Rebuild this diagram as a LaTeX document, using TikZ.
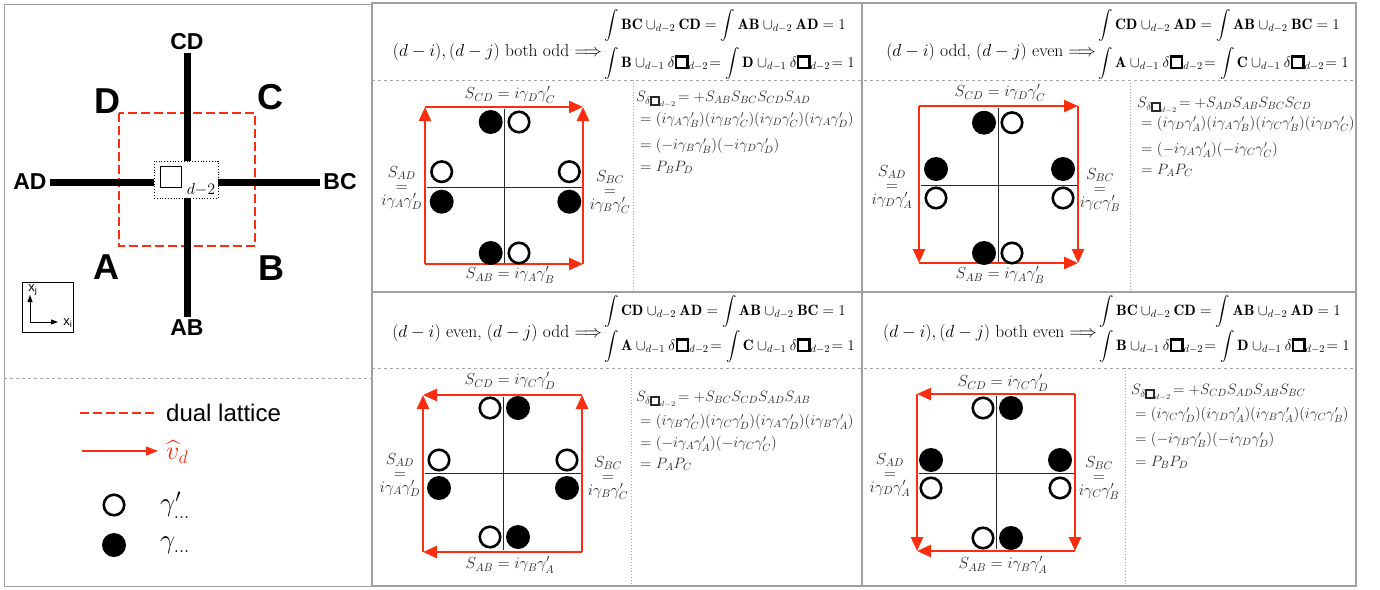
\RequirePackage{fix-cm}
\documentclass[tikz,border=0pt]{standalone}
\usepackage{amsmath}
\usepackage{fontspec}
\newfontfamily\hv{Liberation Sans}
\usetikzlibrary{arrows.meta}
\definecolor{myred}{RGB}{250,45,15}
\definecolor{framegray}{RGB}{160,160,160}
\definecolor{txtgray}{RGB}{40,40,40}
\newcommand{\bsq}{\text{\setlength{\fboxsep}{0pt}\setlength{\fboxrule}{0.15em}\fbox{\rule{0pt}{0.62em}\hspace{0.62em}}}}
\tikzset{
  thinframe/.style={draw=framegray, line width=1pt},
  cellframe/.style={draw=framegray, line width=2.6pt},
  sepdash/.style={draw=gray!70, dashed, line width=0.7pt},
  sepdot/.style={draw=gray!70, dotted, line width=0.9pt},
  latt/.style={draw=black, line width=7pt},
  duallat/.style={draw=myred, line width=2.5pt, dash pattern=on 9pt off 4pt},
  plaqbox/.style={draw=black, dotted, line width=0.8pt, fill=white, minimum width=64pt, minimum height=37pt, inner sep=0pt},
  bigsans/.style={font=\hv\bfseries\fontsize{36}{36}\selectfont, inner sep=2pt},
  midsans/.style={font=\hv\bfseries\fontsize{23}{23}\selectfont, inner sep=3pt},
  opn/.style={circle, draw=black, line width=2.6pt, fill=white, minimum size=20.5pt, inner sep=0pt},
  fil/.style={circle, fill=black, minimum size=24pt, inner sep=0pt},
  rarr/.style={draw=myred, line width=2.6pt, -{Triangle[length=14pt,width=12pt]}},
  legarr/.style={draw=myred, line width=1.3pt, -{Triangle[length=12pt,width=9pt]}},
  xhair/.style={draw=black!85, line width=1pt},
  lbl/.style={font=\fontsize{16}{14}\selectfont, text=txtgray, align=center, inner sep=1pt},
  rtx/.style={font=\fontsize{15}{17}\selectfont, text=txtgray, anchor=base west, inner sep=0pt},
  hdrL/.style={font=\fontsize{17.5}{20}\selectfont, anchor=east, inner sep=1pt},
  hdrE/.style={font=\fontsize{15}{18}\selectfont, anchor=base west, inner sep=1pt},
  axarr/.style={draw=black, line width=1pt, -{Triangle[length=7pt,width=5pt]}}
}
\begin{document}
\begin{tikzpicture}[x=1pt,y=-1pt]
\useasboundingbox (0,0) rectangle (1380,589);
% ---------- frames ----------
\draw[thinframe] (4,4) rectangle (372,586);
\draw[sepdash] (4,378) -- (372,378);
\draw[sepdash] (372,80) -- (1356,80);
\draw[sepdash] (372,368) -- (1356,368);
\draw[sepdot] (633,80) -- (633,292);
\draw[sepdot] (1130,80) -- (1130,292);
\draw[sepdot] (631,368) -- (631,586);
\draw[sepdot] (1125,368) -- (1125,586);
\draw[cellframe] (372,3) rectangle (1356,586);
\draw[cellframe] (862,3) -- (862,586);
\draw[cellframe] (372,292) -- (1356,292);
% ---------- left panel ----------
\draw[duallat] (119,113) rectangle (255,246);
\node[midsans] (lCD) at (187,42) {CD};
\node[midsans] (lAB) at (187,328) {AB};
\node[midsans] (lAD) at (30,182) {AD};
\node[midsans] (lBC) at (340,182) {BC};
\draw[latt] (lCD) -- (lAB);
\draw[latt] (lAD) -- (lBC);
\node[plaqbox] (plaq) at (186,179.5) {};
\node[draw=black, line width=1.2pt, minimum size=21pt, inner sep=0pt] (plaqsq) at (171,177) {};
\node[font=\fontsize{16}{16}\selectfont, inner sep=0pt] (plaqsub) at (201,190) {$d{-}2$};
\node[bigsans] (lD) at (107,101) {D};
\node[bigsans] (lC) at (270,97) {C};
\node[bigsans] (lA) at (106,267) {A};
\node[bigsans] (lB) at (271,268) {B};
\node[draw=black, line width=1pt, minimum width=51pt, minimum height=50pt, inner sep=0pt] (axbox) at (47.5,307) {};
\coordinate (ax0) at (30,322);
\coordinate (axj) at (30,295);
\coordinate (axi) at (58,322);
\draw[axarr] (ax0) -- (axj);
\draw[axarr] (ax0) -- (axi);
\node[font=\hv\fontsize{13}{13}\selectfont, inner sep=0pt] (axjl) at (33,290) {x\textsubscript{j}};
\node[font=\hv\fontsize{13}{13}\selectfont, inner sep=0pt] (axil) at (68,323) {x\textsubscript{i}};
% legend
\coordinate (dl1) at (80,413);
\coordinate (dl2) at (157,413);
\draw[duallat] (dl1) -- (dl2);
\node[anchor=west, font=\hv\fontsize{24}{24}\selectfont, inner sep=0pt] (dltxt) at (166,413) {dual lattice};
\coordinate (va1) at (82,451);
\coordinate (va2) at (158,451);
\draw[legarr] (va1) -- (va2);
\node[anchor=west, font=\fontsize{26}{26}\selectfont, text=myred, inner sep=0pt] (vtxt) at (166,452) {$\widehat{v}_d$};
\node[opn] (lgo) at (114,505) {};
\node[fil] (lgf) at (114,545) {};
\node[anchor=west, font=\fontsize{27}{27}\selectfont, inner sep=0pt] (lgot) at (160,505) {$\gamma'_{\dots}$};
\node[anchor=west, font=\fontsize{27}{27}\selectfont, inner sep=0pt] (lgft) at (160,545) {$\gamma_{\dots}$};
% ================= CELL 1 =================
\node[hdrL] (h1l) at (603,52) {$(d-i),(d-j)$ both odd $\Longrightarrow$};
\node[hdrE] (h1a) at (603,29) {$\displaystyle\int\mathbf{BC}\cup_{d-2}\mathbf{CD}=\int\mathbf{AB}\cup_{d-2}\mathbf{AD}=1$};
\node[hdrE] (h1b) at (603,67) {$\displaystyle\int\mathbf{B}\cup_{d-1}\delta\bsq_{d-2}\!=\int\mathbf{D}\cup_{d-1}\delta\bsq_{d-2}\!=1$};
\coordinate (c1A) at (425,264); \coordinate (c1B) at (583,264);
\coordinate (c1C) at (583,107); \coordinate (c1D) at (425,107);
\coordinate (c1t) at (504,109); \coordinate (c1b) at (504,263);
\coordinate (c1l) at (427,187); \coordinate (c1r) at (583,187);
\draw[xhair] (c1t) -- (c1b); \draw[xhair] (c1l) -- (c1r);
\draw[rarr] (c1A) -- (c1D); \draw[rarr] (c1D) -- (c1C);
\draw[rarr] (c1A) -- (c1B); \draw[rarr] (c1B) -- (c1C);
\node[fil] (c1f1) at (490.7,122) {}; \node[opn] (c1o1) at (519,122) {};
\node[fil] (c1f2) at (490.7,253) {}; \node[opn] (c1o2) at (519,253) {};
\node[opn] (c1o3) at (441.7,171.7) {}; \node[fil] (c1f3) at (441.7,201.7) {};
\node[opn] (c1o4) at (569.3,171.7) {}; \node[fil] (c1f4) at (569.3,201.7) {};
\node[lbl] (c1cd) at (510,95) {$S_{CD}=i\gamma_D\gamma'_C$};
\node[lbl] (c1ab) at (510,275) {$S_{AB}=i\gamma_A\gamma'_B$};
\node[lbl] (c1ad) at (401.7,188) {$S_{AD}$\\$=$\\$i\gamma_A\gamma'_D$};
\node[lbl] (c1bc) at (610,192) {$S_{BC}$\\$=$\\$i\gamma_B\gamma'_C$};
\node[rtx] (c1e1) at (636,101.5) {$S_{\delta\bsq_{d-2}}\!=+S_{AB}S_{BC}S_{CD}S_{AD}$};
\node[rtx] (c1e2) at (640,123.5) {$=(i\gamma_A\gamma'_B)(i\gamma_B\gamma'_C)(i\gamma_D\gamma'_C)(i\gamma_A\gamma'_D)$};
\node[rtx] (c1e3) at (640,149.5) {$=(-i\gamma_B\gamma'_B)(-i\gamma_D\gamma'_D)$};
\node[rtx] (c1e4) at (640,171.5) {$=P_BP_D$};
% ================= CELL 2 =================
\node[hdrL] (h2l) at (1097,52) {$(d-i)$ odd, $(d-j)$ even $\Longrightarrow$};
\node[hdrE] (h2a) at (1097,29) {$\displaystyle\int\mathbf{CD}\cup_{d-2}\mathbf{AD}=\int\mathbf{AB}\cup_{d-2}\mathbf{BC}=1$};
\node[hdrE] (h2b) at (1097,67) {$\displaystyle\int\mathbf{A}\cup_{d-1}\delta\bsq_{d-2}\!=\int\mathbf{C}\cup_{d-1}\delta\bsq_{d-2}\!=1$};
\coordinate (c2A) at (919,263); \coordinate (c2B) at (1078,263);
\coordinate (c2C) at (1078,106); \coordinate (c2D) at (919,106);
\coordinate (c2t) at (998,108); \coordinate (c2b) at (998,262);
\coordinate (c2l) at (921,185); \coordinate (c2r) at (1078,185);
\draw[xhair] (c2t) -- (c2b); \draw[xhair] (c2l) -- (c2r);
\draw[rarr] (c2D) -- (c2A); \draw[rarr] (c2A) -- (c2B);
\draw[rarr] (c2D) -- (c2C); \draw[rarr] (c2C) -- (c2B);
\node[fil] (c2f1) at (984,122.7) {}; \node[opn] (c2o1) at (1012,122.7) {};
\node[fil] (c2f2) at (984,253) {}; \node[opn] (c2o2) at (1012,253) {};
\node[fil] (c2f3) at (936,169) {}; \node[opn] (c2o3) at (936,198) {};
\node[fil] (c2f4) at (1063,169) {}; \node[opn] (c2o4) at (1063,198) {};
\node[lbl] (c2cd) at (1000,93) {$S_{CD}=i\gamma_D\gamma'_C$};
\node[lbl] (c2ab) at (1000,275) {$S_{AB}=i\gamma_A\gamma'_B$};
\node[lbl] (c2ad) at (892,187) {$S_{AD}$\\$=$\\$i\gamma_D\gamma'_A$};
\node[lbl] (c2bc) at (1100,190) {$S_{BC}$\\$=$\\$i\gamma_C\gamma'_B$};
\node[rtx] (c2e1) at (1137,107.5) {$S_{\delta\bsq_{d-2}}\!=+S_{AD}S_{AB}S_{BC}S_{CD}$};
\node[rtx] (c2e2) at (1141,127.5) {$=(i\gamma_D\gamma'_A)(i\gamma_A\gamma'_B)(i\gamma_C\gamma'_B)(i\gamma_D\gamma'_C)$};
\node[rtx] (c2e3) at (1141,153.5) {$=(-i\gamma_A\gamma'_A)(-i\gamma_C\gamma'_C)$};
\node[rtx] (c2e4) at (1141,174.5) {$=P_AP_C$};
% ================= CELL 3 =================
\node[hdrL] (h3l) at (603,333) {$(d-i)$ even, $(d-j)$ odd $\Longrightarrow$};
\node[hdrE] (h3a) at (603,315) {$\displaystyle\int\mathbf{CD}\cup_{d-2}\mathbf{AD}=\int\mathbf{AB}\cup_{d-2}\mathbf{BC}=1$};
\node[hdrE] (h3b) at (603,350) {$\displaystyle\int\mathbf{A}\cup_{d-1}\delta\bsq_{d-2}\!=\int\mathbf{C}\cup_{d-1}\delta\bsq_{d-2}\!=1$};
\coordinate (c3A) at (423,552); \coordinate (c3B) at (582,552);
\coordinate (c3C) at (582,395); \coordinate (c3D) at (423,395);
\coordinate (c3t) at (503,397); \coordinate (c3b) at (503,550);
\coordinate (c3l) at (425,473); \coordinate (c3r) at (582,473);
\draw[xhair] (c3t) -- (c3b); \draw[xhair] (c3l) -- (c3r);
\draw[rarr] (c3B) -- (c3A); \draw[rarr] (c3A) -- (c3D);
\draw[rarr] (c3B) -- (c3C); \draw[rarr] (c3C) -- (c3D);
\node[opn] (c3o1) at (490,408) {}; \node[fil] (c3f1) at (518,408) {};
\node[opn] (c3o2) at (490,537) {}; \node[fil] (c3f2) at (518,537) {};
\node[opn] (c3o3) at (439,460) {}; \node[fil] (c3f3) at (439,488) {};
\node[opn] (c3o4) at (567,460) {}; \node[fil] (c3f4) at (567,488) {};
\node[lbl] (c3cd) at (510,381) {$S_{CD}=i\gamma_C\gamma'_D$};
\node[lbl] (c3ab) at (510,565) {$S_{AB}=i\gamma_B\gamma'_A$};
\node[lbl] (c3ad) at (400,475) {$S_{AD}$\\$=$\\$i\gamma_A\gamma'_D$};
\node[lbl] (c3bc) at (608,478) {$S_{BC}$\\$=$\\$i\gamma_B\gamma'_C$};
\node[rtx] (c3e1) at (636,401.5) {$S_{\delta\bsq_{d-2}}\!=+S_{BC}S_{CD}S_{AD}S_{AB}$};
\node[rtx] (c3e2) at (640,425.5) {$=(i\gamma_B\gamma'_C)(i\gamma_C\gamma'_D)(i\gamma_A\gamma'_D)(i\gamma_B\gamma'_A)$};
\node[rtx] (c3e3) at (640,447.5) {$=(-i\gamma_A\gamma'_A)(-i\gamma_C\gamma'_C)$};
\node[rtx] (c3e4) at (640,468.5) {$=P_AP_C$};
% ================= CELL 4 =================
\node[hdrL] (h4l) at (1098,333) {$(d-i),(d-j)$ both even $\Longrightarrow$};
\node[hdrE] (h4a) at (1098,315) {$\displaystyle\int\mathbf{BC}\cup_{d-2}\mathbf{CD}=\int\mathbf{AB}\cup_{d-2}\mathbf{AD}=1$};
\node[hdrE] (h4b) at (1098,350) {$\displaystyle\int\mathbf{B}\cup_{d-1}\delta\bsq_{d-2}\!=\int\mathbf{D}\cup_{d-1}\delta\bsq_{d-2}\!=1$};
\coordinate (c4A) at (917,551); \coordinate (c4B) at (1075,551);
\coordinate (c4C) at (1075,394); \coordinate (c4D) at (917,394);
\coordinate (c4t) at (996,396); \coordinate (c4b) at (996,549);
\coordinate (c4l) at (919,473); \coordinate (c4r) at (1075,473);
\draw[xhair] (c4t) -- (c4b); \draw[xhair] (c4l) -- (c4r);
\draw[rarr] (c4C) -- (c4D); \draw[rarr] (c4D) -- (c4A);
\draw[rarr] (c4C) -- (c4B); \draw[rarr] (c4B) -- (c4A);
\node[opn] (c4o1) at (983,408) {}; \node[fil] (c4f1) at (1011,408) {};
\node[opn] (c4o2) at (983,538) {}; \node[fil] (c4f2) at (1011,538) {};
\node[fil] (c4f3) at (931,460) {}; \node[opn] (c4o3) at (931,488) {};
\node[fil] (c4f4) at (1060,460) {}; \node[opn] (c4o4) at (1060,488) {};
\node[lbl] (c4cd) at (1003,383) {$S_{CD}=i\gamma_C\gamma'_D$};
\node[lbl] (c4ab) at (1003,565) {$S_{AB}=i\gamma_B\gamma'_A$};
\node[lbl] (c4ad) at (890,475) {$S_{AD}$\\$=$\\$i\gamma_D\gamma'_A$};
\node[lbl] (c4bc) at (1099,478) {$S_{BC}$\\$=$\\$i\gamma_C\gamma'_B$};
\node[rtx] (c4e1) at (1131,394.5) {$S_{\delta\bsq_{d-2}}\!=+S_{CD}S_{AD}S_{AB}S_{BC}$};
\node[rtx] (c4e2) at (1135,418.5) {$=(i\gamma_C\gamma'_D)(i\gamma_D\gamma'_A)(i\gamma_B\gamma'_A)(i\gamma_C\gamma'_B)$};
\node[rtx] (c4e3) at (1135,443.5) {$=(-i\gamma_B\gamma'_B)(-i\gamma_D\gamma'_D)$};
\node[rtx] (c4e4) at (1135,466.5) {$=P_BP_D$};
\end{tikzpicture}
\end{document}
